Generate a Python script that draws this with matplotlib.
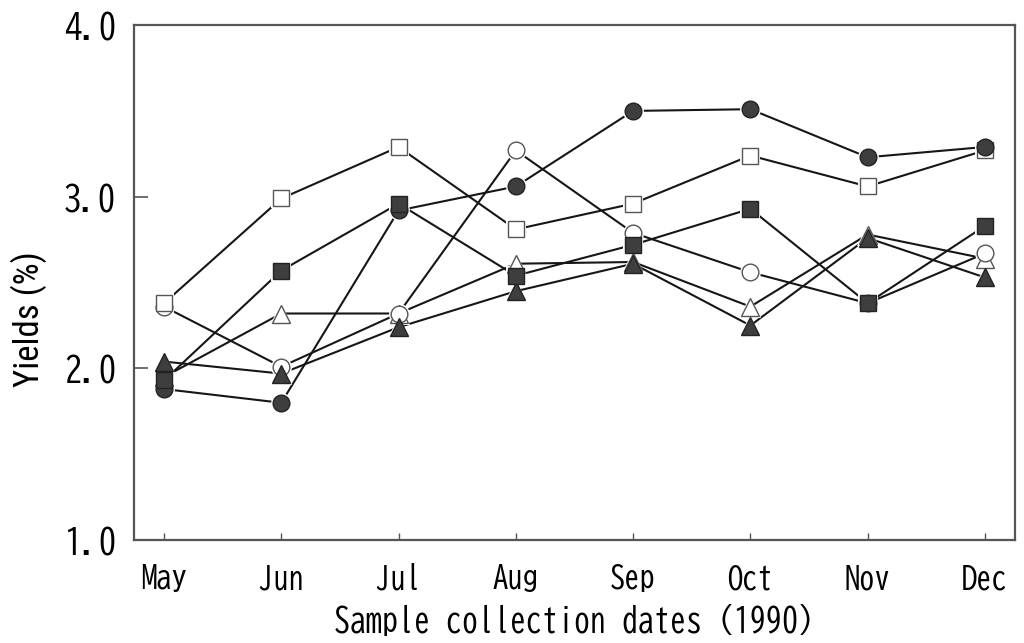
import matplotlib
matplotlib.use("Agg")
import matplotlib.pyplot as plt
from matplotlib import font_manager

months = ["May", "Jun", "Jul", "Aug", "Sep", "Oct", "Nov", "Dec"]
filled_circle = [1.88, 1.80, 2.92, 3.06, 3.50, 3.51, 3.23, 3.29]
open_square = [2.38, 2.99, 3.29, 2.81, 2.96, 3.24, 3.06, 3.27]
filled_square = [1.93, 2.57, 2.96, 2.54, 2.72, 2.93, 2.38, 2.83]
open_circle = [2.36, 2.01, 2.32, 3.27, 2.79, 2.56, 2.38, 2.67]
open_triangle = [1.95, 2.32, 2.32, 2.61, 2.62, 2.36, 2.78, 2.64]
filled_triangle = [2.04, 1.97, 2.24, 2.45, 2.61, 2.25, 2.76, 2.53]
y_ticks = [1.0, 2.0, 3.0, 4.0]

installed = {f.name for f in font_manager.fontManager.ttflist}
gothic = next(n for n in ["BIZ UDGothic", "M PLUS 1 Code", "Noto Sans Mono",
                          "DejaVu Sans Mono"] if n in installed)
narrow = [n for n in ["Roboto Condensed", "Archivo Narrow", "PT Sans Narrow",
                      "Oswald"] if n in installed] + [gothic]

fig = plt.figure(figsize=(10.24, 6.43), dpi=100)
ax = fig.add_axes([0.131, 0.160, 0.860, 0.801])

x = list(range(len(months)))
ink = "#161616"
dark = "#3e3e3e"

series = [
    (open_triangle, "^", "white", "#555555"),
    (open_circle, "o", "white", "#555555"),
    (open_square, "s", "white", "#555555"),
    (filled_triangle, "^", dark, "#222222"),
    (filled_circle, "o", dark, "#222222"),
    (filled_square, "s", dark, "#222222"),
]

# connecting lines first, then a white halo so lines stop short of markers
for vals, m, fc, ec in series:
    ax.plot(x, vals, color=ink, lw=1.5, zorder=2, solid_capstyle="butt")
for vals, m, fc, ec in series:
    ms = 13.5 if m == "^" else 12
    ax.plot(x, vals, ls="none", marker=m, ms=ms + 3, mfc="white",
            mec="white", mew=0, zorder=3)
for i, (vals, m, fc, ec) in enumerate(series):
    ms = 13.5 if m == "^" else 12
    ax.plot(x, vals, ls="none", marker=m, ms=ms, mfc=fc, mec=ec,
            mew=1.0, zorder=4 + i)

ax.set_xlim(-0.255, 7.255)
ax.set_ylim(1.0, 4.0)
ax.set_xticks(x)
ax.set_xticklabels(months, fontsize=22, family=gothic)
ax.set_yticks(y_ticks)
ax.set_yticklabels([f"{v:.1f}" for v in y_ticks], fontsize=25, family=gothic)
ax.tick_params(axis="y", direction="in", length=10, width=1.2,
               color="#555555", pad=13)
ax.tick_params(axis="x", direction="in", length=5, width=1.0,
               color="#555555", pad=16)
for s in ax.spines.values():
    s.set_color("#555555")
    s.set_linewidth(1.6)

ax.set_xlabel("Sample collection dates (1990)", fontsize=23, family=gothic)
ax.xaxis.set_label_coords(0.5, -0.124)
ax.set_ylabel("Yields (%)", fontsize=25, family=narrow)
ax.yaxis.set_label_coords(-0.099, 0.43)

fig.savefig("out.png", dpi=100)
